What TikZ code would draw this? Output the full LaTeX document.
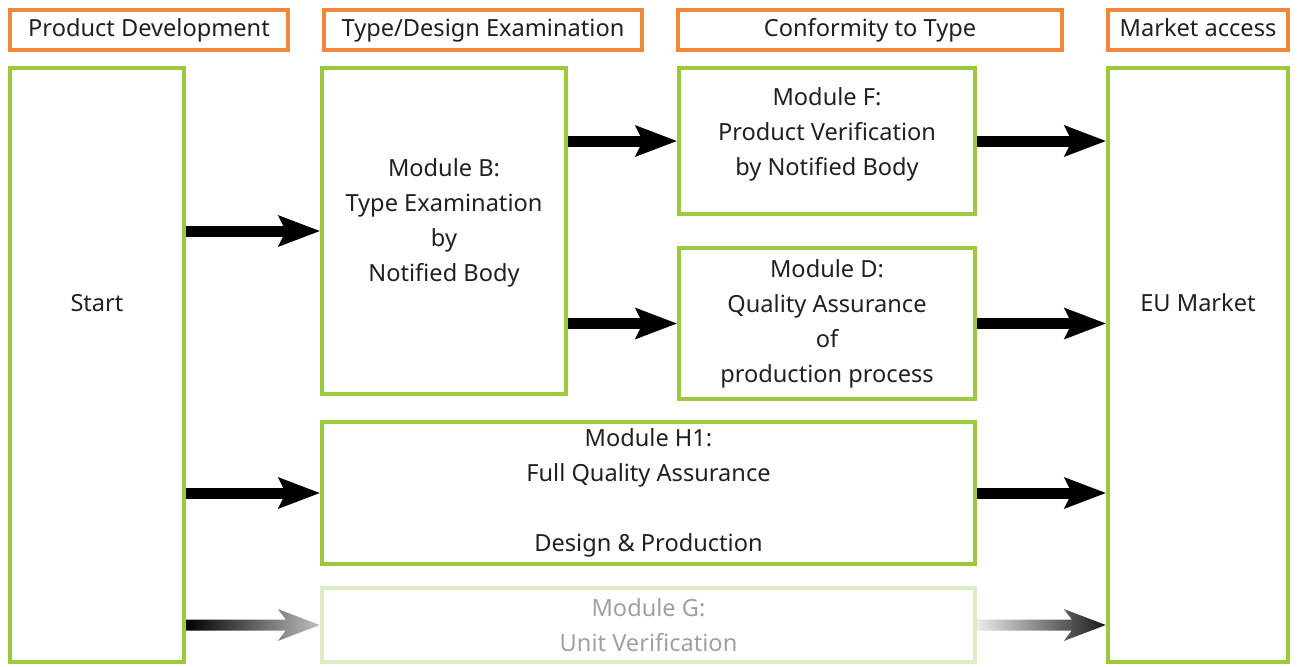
\documentclass[tikz,border=0pt]{standalone}
\usepackage{fontspec}
\setmainfont{Noto Sans}
\usepackage{xcolor}
\usetikzlibrary{arrows.meta}
\usetikzlibrary{calc}
\definecolor{hdrorange}{RGB}{240,135,58}
\definecolor{modgreen}{RGB}{155,202,62}
\definecolor{fadegreen}{RGB}{222,236,198}
\definecolor{txtgray}{RGB}{35,31,32}
\definecolor{fadetext}{RGB}{160,160,160}
\tikzset{every node/.style={font=\fontsize{11.8}{17.5}\selectfont,text=txtgray,align=center},
         header/.style={draw=hdrorange,line width=2pt,minimum height=20pt,inner sep=0pt,
                        text height=9pt,text depth=2.3pt},
         module/.style={draw=modgreen,line width=2.2pt,inner sep=0pt},
         faded/.style={module,draw=fadegreen,text=fadetext},
         arr/.style={line width=5.5pt,-{Stealth[length=21pt,width=16pt,inset=4pt,line width=0pt]}},
         }
% gradient arrow: from, to, left colour, right colour
\newcommand{\fadearrow}[4]{%
  \shade[left color=#3,right color=#4] let \p1=(#1), \p2=(#2) in
    (\x1,\y1+2.75pt) -- (\x2-17pt,\y1+2.75pt) -- (\x2-21pt,\y1+8pt) -- (\x2,\y1)
    -- (\x2-21pt,\y1-8pt) -- (\x2-17pt,\y1-2.75pt) -- (\x1,\y1-2.75pt) -- cycle;}

\begin{document}
\begin{tikzpicture}[x=0.5pt,y=-0.5pt]
\useasboundingbox (0,0) rectangle (1298,666);
% column headers
\node[header,minimum width=139pt] (hdev) at (149,30) {Product Development};
\node[header,minimum width=159pt] (htype) at (483,30) {Type/Design Examination};
\node[header,minimum width=192pt] (hconf) at (870,30) {Conformity to Type};
\node[header,minimum width=90pt] (hmark) at (1198,30) {Market access};
% modules
\node[module,minimum width=87pt,minimum height=297pt] (start) at (97,365) {Start\\[44.5pt]};
\node[module,minimum width=122pt,minimum height=163pt] (modb) at (444,231)
  {Module B:\\Type Examination\\by\\Notified Body\\[-6.5pt]};
\node[module,minimum width=148pt,minimum height=73pt] (modf) at (827,141)
  {Module F:\\Product Verification\\by Notified Body\\[-8.5pt]};
\node[module,minimum width=148pt,minimum height=75.5pt] (modd) at (827,323.5)
  {Module D:\\Quality Assurance\\of\\production process};
\node[module,minimum width=326.5pt,minimum height=71pt] (modh) at (648.5,493)
  {Module H1:\\Full Quality Assurance\\\mbox{}\\Design \& Production};
\node[faded,minimum width=326.5pt,minimum height=37pt] (modg) at (648.5,625)
  {Module G:\\Unit Verification};
\node[module,minimum width=90pt,minimum height=297pt] (eu) at (1198,365) {EU Market\\[44.5pt]};
% connectors
\draw[arr] (start.east |- modb.west) -- (modb.west);
\draw[arr] (modb.east |- modf.west) -- (modf.west);
\draw[arr] (modb.east |- modd.west) -- (modd.west);
\draw[arr] (modf.east) -- (modf.east -| eu.west);
\draw[arr] (modd.east) -- (modd.east -| eu.west);
\draw[arr] (start.east |- modh.west) -- (modh.west);
\draw[arr] (modh.east) -- (modh.east -| eu.west);
\fadearrow{start.east |- modg.west}{modg.west}{black}{black!25}
\fadearrow{modg.east}{modg.east -| eu.west}{black!8}{black!90}
\end{tikzpicture}
\end{document}
